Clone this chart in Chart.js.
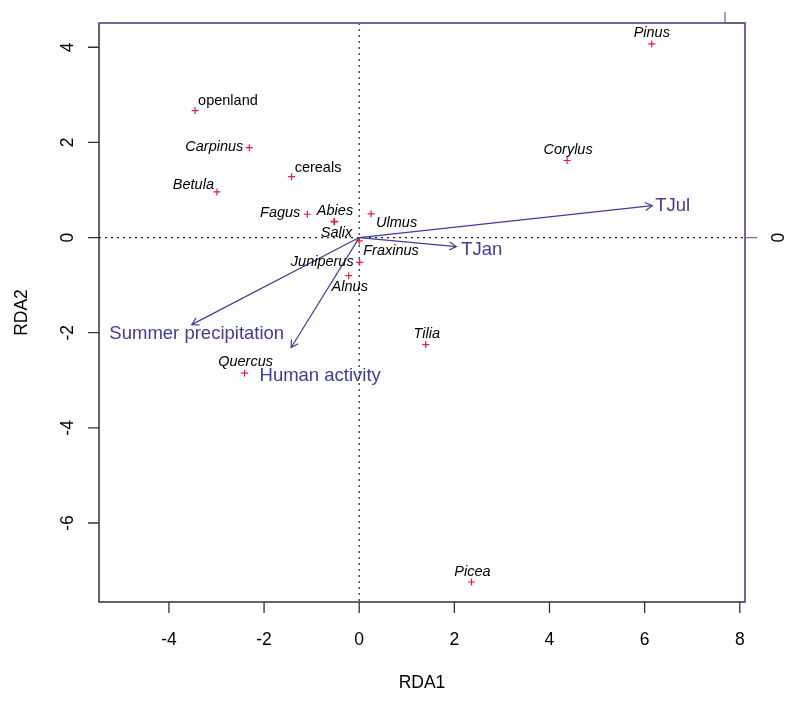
<!DOCTYPE html>
<html><head><meta charset="utf-8">
<script src="https://cdn.jsdelivr.net/npm/chart.js@4/dist/chart.umd.min.js"></script>
<style>html,body{margin:0;padding:0;background:#fff}#wrap{width:800px;height:701px}</style>
</head><body><div id="wrap"><canvas id="c" width="800" height="701"></canvas></div>
<script>
// ---- data ----
const speciesNames = ['Pinus','openland','Carpinus','cereals','Corylus','Betula','Fagus','Abies','Ulmus','Salix','Fraxinus','Juniperus','Alnus','Quercus','Tilia','Picea'];
const speciesX = [6.15,-3.45,-2.31,-1.42,4.37,-2.99,-1.09,-0.53,0.25,-0.52,0.00,0.01,-0.22,-2.41,1.40,2.36];
const speciesY = [4.07,2.67,1.89,1.28,1.62,0.96,0.49,0.34,0.50,0.33,-0.07,-0.52,-0.80,-2.85,-2.25,-7.24];
const envNames = ['TJul','TJan','Summer precipitation','Human activity'];
const envX = [6.16,2.04,-3.52,-1.43];
const envY = [0.67,-0.19,-1.83,-2.31];
const xTicks = [-4,-2,0,2,4,6,8];
const yTicks = [-6,-4,-2,0,2,4];
const rightTicks = [0];
const xTitle = 'RDA1';
const yTitle = 'RDA2';

// ---- styles (label placement: align, dx, dy in px) ----
const speciesLabelPlace = [
  ['center',0,-11],['left',3,-10],['right',-6,-1],['left',3,-9],['center',1,-11],['right',-3,-7],
  ['right',-7,-1],['center',1,-10],['left',5,9],['center',2,11],['left',4,10],['right',-6,0],
  ['center',1,11],['center',1,-11],['center',1,-11],['center',1,-10]
];
const speciesItalic = [true,false,true,false,true,true,true,true,true,true,true,true,true,true,true,true];
const envLabelPlace = [['left',3,0],['left',5,3],['center',5,9],['center',29,28]];
const RED = '#ec1a3a', BLUE = '#3d3d9e', AXBLUE = '#6d6dbb';
const FONT = '"Liberation Sans", Arial, Helvetica, sans-serif';

const overlay = {
  id: 'overlay',
  beforeDatasetsDraw(chart) {
    const {ctx, chartArea: a, scales: {x, y}} = chart;
    ctx.save();
    ctx.strokeStyle = '#222'; ctx.lineWidth = 1.2; ctx.setLineDash([2,4]);
    const x0 = x.getPixelForValue(0), y0 = y.getPixelForValue(0);
    ctx.beginPath(); ctx.moveTo(a.left, y0); ctx.lineTo(a.right, y0); ctx.stroke();
    ctx.beginPath(); ctx.moveTo(x0, a.top); ctx.lineTo(x0, a.bottom); ctx.stroke();
    ctx.restore();
  },
  afterDatasetsDraw(chart) {
    const {ctx, chartArea: a, scales: {x, y}} = chart;
    ctx.save();
    // arrowheads
    ctx.strokeStyle = BLUE; ctx.lineWidth = 1.2;
    const ox = x.getPixelForValue(0), oy = y.getPixelForValue(0);
    envNames.forEach((n, i) => {
      const tx = x.getPixelForValue(envX[i]), ty = y.getPixelForValue(envY[i]);
      const ang = Math.atan2(ty - oy, tx - ox), L = 8, h = Math.PI / 6;
      ctx.beginPath();
      ctx.moveTo(tx - L * Math.cos(ang - h), ty - L * Math.sin(ang - h));
      ctx.lineTo(tx, ty);
      ctx.lineTo(tx - L * Math.cos(ang + h), ty - L * Math.sin(ang + h));
      ctx.stroke();
    });
    // box
    ctx.strokeStyle = '#111'; ctx.lineWidth = 1.3;
    ctx.strokeRect(a.left, a.top, a.right - a.left, a.bottom - a.top);
    // ticks bottom/left
    ctx.beginPath();
    xTicks.forEach(v => { const p = x.getPixelForValue(v); ctx.moveTo(p, a.bottom); ctx.lineTo(p, a.bottom + 11); });
    yTicks.forEach(v => { const p = y.getPixelForValue(v); ctx.moveTo(a.left, p); ctx.lineTo(a.left - 11, p); });
    ctx.strokeStyle = '#333'; ctx.stroke();
    // secondary blue axes
    ctx.strokeStyle = AXBLUE; ctx.lineWidth = 1.3;
    ctx.beginPath();
    ctx.moveTo(a.left, a.top); ctx.lineTo(725, a.top); ctx.lineTo(725, a.top - 11);
    ctx.moveTo(a.right, a.top); ctx.lineTo(a.right, a.bottom);
    rightTicks.forEach(v => { const p = y.getPixelForValue(v); ctx.moveTo(a.right, p); ctx.lineTo(a.right + 12, p); });
    ctx.stroke();
    // tick labels
    ctx.fillStyle = '#000';
    ctx.font = '17.5px ' + FONT;
    ctx.textAlign = 'center'; ctx.textBaseline = 'middle';
    xTicks.forEach(v => ctx.fillText(String(v), x.getPixelForValue(v), 640));
    const rot = (t, px, py) => { ctx.save(); ctx.translate(px, py); ctx.rotate(-Math.PI / 2); ctx.fillText(t, 0, 0); ctx.restore(); };
    yTicks.forEach(v => rot(String(v), 68, y.getPixelForValue(v)));
    rightTicks.forEach(v => rot(String(v), 779, y.getPixelForValue(v)));
    ctx.fillText(xTitle, (a.left + a.right) / 2, 683);
    rot(yTitle, 22, (a.top + a.bottom) / 2);
    // species labels
    speciesNames.forEach((n, i) => {
      const px = x.getPixelForValue(speciesX[i]), py = y.getPixelForValue(speciesY[i]);
      const [al, dx, dy] = speciesLabelPlace[i];
      ctx.font = (speciesItalic[i] ? 'italic ' : '') + '14.5px ' + FONT;
      ctx.textAlign = al; ctx.fillStyle = '#000';
      ctx.fillText(n, px + dx, py + dy);
    });
    // env labels
    envNames.forEach((n, i) => {
      const px = x.getPixelForValue(envX[i]), py = y.getPixelForValue(envY[i]);
      const [al, dx, dy] = envLabelPlace[i];
      ctx.font = '18.5px ' + FONT;
      ctx.textAlign = al; ctx.fillStyle = BLUE;
      ctx.fillText(n, px + dx, py + dy);
    });
    ctx.restore();
  }
};

const datasets = [{
  data: speciesNames.map((n, i) => ({x: speciesX[i], y: speciesY[i]})),
  pointStyle: 'cross', pointRadius: 3.5, pointHoverRadius: 3.5,
  borderColor: RED, backgroundColor: RED, borderWidth: 1.2, showLine: false
}].concat(envNames.map((n, i) => ({
  data: [{x: 0, y: 0}, {x: envX[i], y: envY[i]}],
  showLine: true, borderColor: BLUE, borderWidth: 1.2, pointRadius: 0, fill: false
})));

new Chart(document.getElementById('c'), {
  type: 'scatter',
  data: { datasets },
  options: {
    responsive: false, animation: false, devicePixelRatio: 1,
    layout: { padding: { top: 23, right: 55, left: 0, bottom: 0 } },
    plugins: { legend: { display: false }, tooltip: { enabled: false } },
    scales: {
      x: { type: 'linear', min: -5.47, max: 8.11,
           grid: { display: false }, border: { display: false }, ticks: { display: false },
           afterBuildTicks: s => { s.ticks = xTicks.map(v => ({value: v})); },
           afterFit: s => { s.height = 99; } },
      y: { type: 'linear', min: -7.66, max: 4.51,
           grid: { display: false }, border: { display: false }, ticks: { display: false },
           afterBuildTicks: s => { s.ticks = yTicks.map(v => ({value: v})); },
           afterFit: s => { s.width = 99; } }
    }
  },
  plugins: [overlay]
});
</script></body></html>
